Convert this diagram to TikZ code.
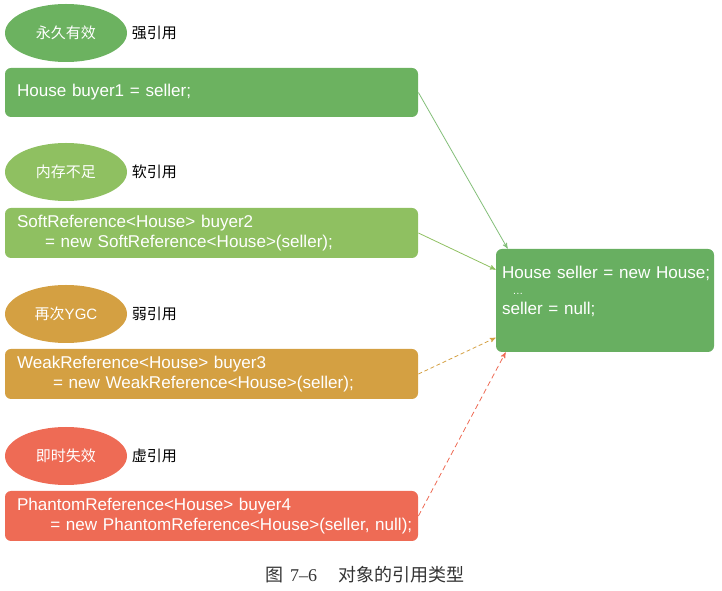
\documentclass[tikz,border=0pt]{standalone}
\usepackage{fontspec}
\setmainfont{Liberation Sans}
\newfontfamily\cjk{Noto Sans CJK SC}
\newfontfamily\capfont{Liberation Serif}
\usepackage{xcolor}
\usetikzlibrary{positioning}
\usetikzlibrary{arrows,shapes.geometric}
\definecolor{strongc}{RGB}{108,178,96}
\definecolor{softc}{RGB}{143,192,97}
\definecolor{weakc}{RGB}{212,160,66}
\definecolor{phantc}{RGB}{238,107,85}
\definecolor{objc}{RGB}{104,175,97}

\begin{document}
\begin{tikzpicture}[x=0.75pt,y=-0.75pt,>=stealth',line width=0.6pt,
    oval/.style={ellipse,minimum width=91.5pt,minimum height=43.5pt,inner sep=0pt,
                 text=white,font=\cjk\fontsize{11.25}{13}\selectfont},
    tag/.style={inner sep=0pt,font=\cjk\fontsize{11.25}{13}\selectfont},
    code/.style={rounded corners=4.5pt,minimum width=309.75pt,minimum height=37.5pt,
                 text width=291.75pt,inner xsep=9pt,align=left,text=white,
                 font=\fontsize{12.8}{15}\selectfont}]
\useasboundingbox (0,0) rectangle (722,591);
\node[oval,fill=strongc] (e1) at (66,33) {永久有效};
\node[tag,right = 3pt of e1] (t1) {强引用};
\node[code,fill=strongc,minimum height=36.75pt] (b1) at (211.5,92.5) {House buyer1 = seller;};
\node[oval,fill=softc] (e2) at (66,172) {内存不足};
\node[tag,right = 3pt of e2] (t2) {软引用};
\node[code,fill=softc] (b2) at (211.5,233) {SoftReference<House> buyer2\\
  \mbox{\hspace*{21pt}= new SoftReference<House>(seller);}};
\node[oval,fill=weakc] (e3) at (66,314) {再次\fontspec{Liberation Sans}YGC};
\node[tag,right = 3pt of e3] (t3) {弱引用};
\node[code,fill=weakc] (b3) at (211.5,374) {WeakReference<House> buyer3\\
  \mbox{\hspace*{27pt}= new WeakReference<House>(seller);}};
\node[oval,fill=phantc] (e4) at (66,456) {即时失效};
\node[tag,right = 3pt of e4] (t4) {虚引用};
\node[code,fill=phantc] (b4) at (211.5,516) {PhantomReference<House> buyer4\\
  \mbox{\hspace*{25pt}= new PhantomReference<House>(seller, null);}};
\node[code,fill=objc,minimum width=163.5pt,minimum height=77.25pt,text width=154.5pt,
      inner xsep=4.5pt] (seller) at (605,300.5) {\mbox{House seller = new House;}\\[-3pt]
  \hspace*{8pt}{\footnotesize\ldots}\\[0pt]
  seller = null;\\ \mbox{}};
\draw[->,color=strongc!85!white] (b1.east) -- ([xshift=9pt]seller.north west);
\draw[->,color=softc] (b2.east) -- ([yshift=-15.75pt]seller.north west);
\draw[->,color=weakc,densely dashed] (b3.east) -- ([yshift=11pt]seller.south west);
\draw[->,color=phantc,dash pattern=on 4pt off 2.5pt] (b4.east) -- ([xshift=7.5pt]seller.south west);
\node[text=black!80,font=\fontsize{13.5}{16}\selectfont] (cap) at (365,575)
  {{\cjk 图}\hspace{5pt}{\capfont 7–6}\hspace{16pt}{\cjk 对象的引用类型}};
\end{tikzpicture}
\end{document}
